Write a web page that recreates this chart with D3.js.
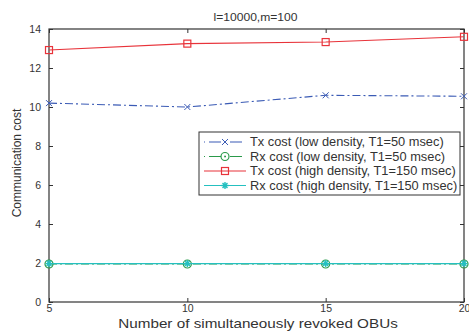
<!DOCTYPE html>
<html>
<head>
<meta charset="utf-8">
<script src="https://cdn.jsdelivr.net/npm/d3@7"></script>
<style>
  body { margin: 0; background: #fff; }
  text { font-family: "Liberation Sans", Arial, sans-serif; fill: #333; }
</style>
</head>
<body>
<div id="chart"></div>
<script>
var svgWidth = 469;
var svgHeight = 331;

// data
var xValues = [5, 10, 15, 20];
var txLow = [10.2, 10.0, 10.6, 10.55];
var rxLow = [1.95, 1.95, 1.95, 1.95];
var txHigh = [12.92, 13.25, 13.33, 13.6];
var rxHigh = [1.97, 1.97, 1.97, 1.97];
var xTicks = [5, 10, 15, 20];
var yTicks = [0, 2, 4, 6, 8, 10, 12, 14];
var seriesNames = [
  "Tx cost (low density, T1=50 msec)",
  "Rx cost (low density, T1=50 msec)",
  "Tx cost (high density, T1=150 msec)",
  "Rx cost (high density, T1=150 msec)"
];

var margin = { top: 29, right: 5, bottom: 29, left: 49 };
var width = 464 - margin.left;
var height = 302 - margin.top;

var svg = d3.select("#chart")
  .append("svg")
  .attr("width", svgWidth)
  .attr("height", svgHeight);

var chartGroup = svg.append("g")
  .attr("transform", `translate(${margin.left}, ${margin.top})`);

var xScale = d3.scaleLinear().domain([5, 20]).range([0, width]);
var yScale = d3.scaleLinear().domain([0, 14]).range([height, 0]);

// plot box
chartGroup.append("rect")
  .attr("width", width)
  .attr("height", height)
  .attr("fill", "none")
  .attr("stroke", "#333")
  .attr("stroke-width", 1.2);

// axes with inward ticks
var bottomAxis = d3.axisBottom(xScale).tickValues(xTicks).tickSize(-4).tickPadding(3).tickFormat(d3.format("d"));
var topAxis = d3.axisTop(xScale).tickValues(xTicks).tickSize(-4).tickFormat("");
var leftAxis = d3.axisLeft(yScale).tickValues(yTicks).tickSize(-4).tickPadding(8).tickFormat(d3.format("d"));
var rightAxis = d3.axisRight(yScale).tickValues(yTicks).tickSize(-4).tickFormat("");

function styleAxis(g) {
  g.select(".domain").remove();
  g.selectAll(".tick line").attr("stroke", "#333");
  g.selectAll(".tick text").attr("font-size", 10.5).attr("fill", "#333");
}

chartGroup.append("g").attr("transform", `translate(0, ${height})`).call(bottomAxis).call(styleAxis);
chartGroup.append("g").call(topAxis).call(styleAxis);
chartGroup.append("g").call(leftAxis).call(styleAxis);
chartGroup.append("g").attr("transform", `translate(${width}, 0)`).call(rightAxis).call(styleAxis);

var series = [
  { name: seriesNames[0], values: txLow, color: "#3b5bb5", dash: "8,3,2,3", marker: "x" },
  { name: seriesNames[1], values: rxLow, color: "#2a9a4a", dash: "8,3,2,3", marker: "circle" },
  { name: seriesNames[2], values: txHigh, color: "#e8333a", dash: null, marker: "square" },
  { name: seriesNames[3], values: rxHigh, color: "#25c0c0", dash: null, marker: "star" }
];

var line = d3.line()
  .x((d, i) => xScale(xValues[i]))
  .y(d => yScale(d));

function drawMarker(g, type, cx, cy, color) {
  if (type === "x") {
    g.append("path")
      .attr("d", `M${cx - 3},${cy - 3}L${cx + 3},${cy + 3}M${cx - 3},${cy + 3}L${cx + 3},${cy - 3}`)
      .attr("stroke", color).attr("stroke-width", 1);
  } else if (type === "circle") {
    g.append("circle").attr("cx", cx).attr("cy", cy).attr("r", 4)
      .attr("fill", "none").attr("stroke", color).attr("stroke-width", 1.2);
    g.append("circle").attr("cx", cx).attr("cy", cy).attr("r", 0.9).attr("fill", color);
  } else if (type === "square") {
    g.append("rect").attr("x", cx - 3.5).attr("y", cy - 3.5).attr("width", 7).attr("height", 7)
      .attr("fill", "none").attr("stroke", color).attr("stroke-width", 1.2);
  } else if (type === "star") {
    var r = 3.5;
    var p = "";
    for (var k = 0; k < 4; k++) {
      var a = k * Math.PI / 4;
      p += `M${cx - r * Math.cos(a)},${cy - r * Math.sin(a)}L${cx + r * Math.cos(a)},${cy + r * Math.sin(a)}`;
    }
    g.append("path").attr("d", p).attr("stroke", color).attr("stroke-width", 1.4);
  }
}

series.forEach(function(s) {
  chartGroup.append("path")
    .datum(s.values)
    .attr("d", line)
    .attr("fill", "none")
    .attr("stroke", s.color)
    .attr("stroke-width", 1.1)
    .attr("stroke-dasharray", s.dash);
  var mg = chartGroup.append("g");
  s.values.forEach(function(v, i) {
    drawMarker(mg, s.marker, xScale(xValues[i]), yScale(v), s.color);
  });
});

// legend
var legend = svg.append("g").attr("transform", "translate(199, 132)");
legend.append("rect")
  .attr("width", 261)
  .attr("height", 63)
  .attr("fill", "#fff")
  .attr("stroke", "#333")
  .attr("stroke-width", 1);

series.forEach(function(s, i) {
  var ly = 10 + i * 14.5;
  var row = legend.append("g");
  row.append("line")
    .attr("x1", 5).attr("x2", 47).attr("y1", ly).attr("y2", ly)
    .attr("stroke", s.color).attr("stroke-width", 1.1)
    .attr("stroke-dasharray", s.dash ? "1,4,12,4" : null);
  drawMarker(row, s.marker, 26, ly, s.color);
  // text is slightly stretched horizontally, like the scanned figure
  row.append("text")
    .attr("transform", `translate(51, ${ly}) scale(1.07, 1)`)
    .attr("dy", "0.35em")
    .attr("font-size", 12)
    .text(s.name);
});

// title
svg.append("text")
  .attr("transform", `translate(${margin.left + width / 2 - 1}, 21) scale(1.1, 1)`)
  .attr("text-anchor", "middle")
  .attr("font-size", 11)
  .text("l=10000,m=100");

// y axis label
svg.append("text")
  .attr("transform", `translate(21, ${163}) rotate(-90)`)
  .attr("text-anchor", "middle")
  .attr("font-size", 12)
  .text("Communication cost");

// x axis label
svg.append("text")
  .attr("transform", `translate(258, 328) scale(1.24, 1)`)
  .attr("text-anchor", "middle")
  .attr("font-size", 12.3)
  .text("Number of simultaneously revoked OBUs");
</script>
</body>
</html>
